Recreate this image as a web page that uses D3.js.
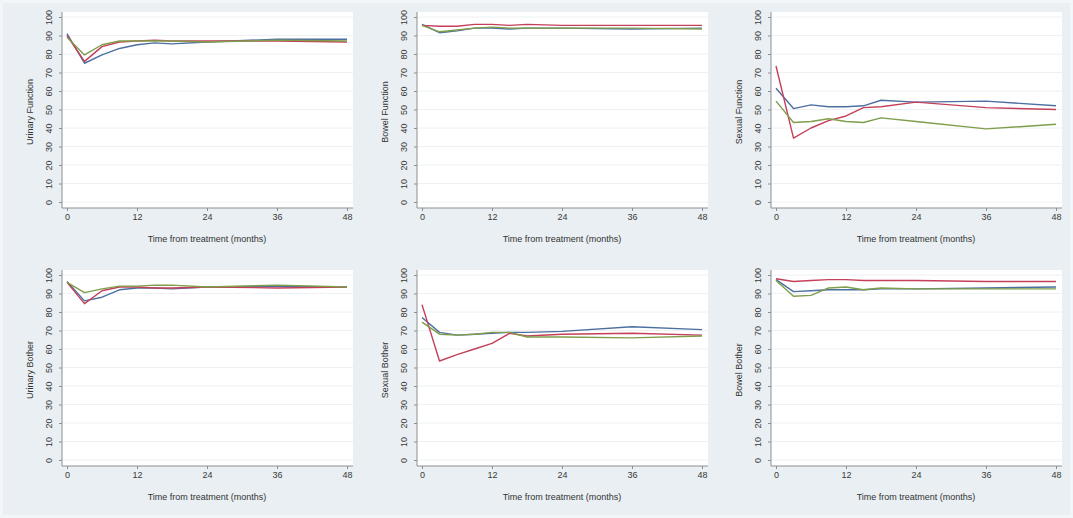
<!DOCTYPE html>
<html>
<head>
<meta charset="utf-8">
<script src="https://cdn.jsdelivr.net/npm/d3@7"></script>
<style>
  html, body { margin: 0; padding: 0; background: #f3f6f8; }
  svg { display: block; font-family: "Liberation Sans", Arial, sans-serif; }
</style>
</head>
<body>
<div id="chart"></div>
<script>
// time points (months)
const months = [0, 3, 6, 9, 12, 15, 18, 24, 36, 48];
const xTicks = [0, 12, 24, 36, 48];
const yTicks = [0, 10, 20, 30, 40, 50, 60, 70, 80, 90, 100];

// panel titles
const titles = ["Urinary Function", "Bowel Function", "Sexual Function",
                "Urinary Bother", "Sexual Bother", "Bowel Bother"];

// series values per panel
const urinaryFunctionBlue  = [91, 75, 79.5, 83, 85, 86, 85.5, 86.5, 88, 88];
const urinaryFunctionRed   = [90, 76, 84, 86.5, 87, 87.5, 87, 87, 87, 86.5];
const urinaryFunctionGreen = [89, 79.5, 85, 87, 87, 87, 87, 86.5, 87.5, 87];

const bowelFunctionBlue  = [96, 91.5, 92.5, 94, 94, 93.5, 94, 94, 93.5, 94];
const bowelFunctionRed   = [95.5, 95, 95, 96, 96, 95.5, 96, 95.5, 95.5, 95.5];
const bowelFunctionGreen = [95.5, 92, 93, 94, 94.5, 94, 94, 94, 94, 93.5];

const sexualFunctionBlue  = [61.5, 50.5, 52.5, 51.5, 51.5, 52, 55, 54, 54.5, 52];
const sexualFunctionRed   = [73.5, 34.5, 40, 44, 46.5, 51, 51.5, 54, 51, 50];
const sexualFunctionGreen = [54.5, 43, 43.5, 45, 43.5, 43, 45.5, 43.5, 39.5, 42];

const urinaryBotherBlue  = [96.5, 86, 88, 92, 93, 93, 92.5, 93.5, 94, 93.5];
const urinaryBotherRed   = [96, 84.5, 91.5, 93.5, 93.5, 93, 93, 93.5, 93, 93.5];
const urinaryBotherGreen = [96, 90.5, 92.5, 94, 94, 94.5, 94.5, 93.5, 94.5, 93.5];

const sexualBotherBlue  = [77, 69, 67.5, 68, 68.5, 69, 69, 69.5, 72, 70.5];
const sexualBotherRed   = [84, 53.5, 57, 60, 63, 68.5, 67, 68, 68.5, 67.5];
const sexualBotherGreen = [74.5, 68, 67.5, 68, 69, 69, 66.5, 66.5, 66, 67];

const bowelBotherBlue  = [97.5, 91, 91.5, 92, 92, 92, 92.5, 92.5, 93, 93.5];
const bowelBotherRed   = [98, 96.5, 97, 97.5, 97.5, 97, 97, 97, 96.5, 96.5];
const bowelBotherGreen = [97, 88.5, 89, 93, 93.5, 92, 93, 92.5, 92.5, 92.5];

const panelSeries = [
  [urinaryFunctionBlue, urinaryFunctionRed, urinaryFunctionGreen],
  [bowelFunctionBlue, bowelFunctionRed, bowelFunctionGreen],
  [sexualFunctionBlue, sexualFunctionRed, sexualFunctionGreen],
  [urinaryBotherBlue, urinaryBotherRed, urinaryBotherGreen],
  [sexualBotherBlue, sexualBotherRed, sexualBotherGreen],
  [bowelBotherBlue, bowelBotherRed, bowelBotherGreen]
];
const colors = ["#4d6fa0", "#c4405a", "#7f9e4b"];

const W = 1073, H = 518;
const colX = [0, 355, 713];
const rowY = [0, 258];

const svg = d3.select("#chart").append("svg")
  .attr("width", W).attr("height", H);

svg.append("rect").attr("x", 3).attr("y", 3)
  .attr("width", W - 6).attr("height", H - 6)
  .attr("fill", "#e9eff2");

titles.forEach((title, i) => {
  const ox = colX[i % 3], oy = rowY[Math.floor(i / 3)];
  const left = ox + (i % 3 === 2 ? 58 : 62);
  const top = oy + 12, bottom = oy + 208;
  const right = left + 291;

  const x = d3.scaleLinear().domain([0, 48]).range([left + 5, left + 285]);
  const y = d3.scaleLinear().domain([0, 100]).range([oy + 202, oy + 17]);

  const g = svg.append("g");

  g.append("rect")
    .attr("x", left).attr("y", top)
    .attr("width", right - left).attr("height", bottom - top)
    .attr("fill", "#ffffff");

  // grid
  g.selectAll(".grid").data(yTicks).join("line")
    .attr("x1", left + 1).attr("x2", right)
    .attr("y1", d => y(d)).attr("y2", d => y(d))
    .attr("stroke", "#eef0f1").attr("stroke-width", 1);

  // y axis
  const yAxis = g.append("g")
    .attr("transform", `translate(${left},0)`)
    .call(d3.axisLeft(y).tickValues(yTicks).tickSize(3).tickPadding(4));
  yAxis.select(".domain").attr("d", `M0,${top}V${bottom}`).attr("stroke", "#8a8f93");
  yAxis.selectAll(".tick line").attr("stroke", "#8a8f93");
  yAxis.selectAll(".tick text")
    .attr("transform", "rotate(-90)")
    .attr("x", 0).attr("y", -10).attr("dy", "0")
    .attr("text-anchor", "middle")
    .attr("font-size", 9).attr("fill", "#3a3a3a");

  // x axis
  const xAxis = g.append("g")
    .attr("transform", `translate(0,${bottom})`)
    .call(d3.axisBottom(x).tickValues(xTicks).tickSize(3).tickPadding(3));
  xAxis.select(".domain").attr("d", `M${left},0H${right}`).attr("stroke", "#8a8f93");
  xAxis.selectAll(".tick line").attr("stroke", "#8a8f93");
  xAxis.selectAll(".tick text").attr("font-size", 9).attr("fill", "#3a3a3a");

  // titles
  g.append("text")
    .attr("transform", `translate(${left - 32},${(top + bottom) / 2 + 2}) rotate(-90)`)
    .attr("text-anchor", "middle").attr("dy", "0.35em")
    .attr("font-size", 9).attr("fill", "#333")
    .text(title);
  g.append("text")
    .attr("x", (x(0) + x(48)) / 2).attr("y", bottom + 34)
    .attr("text-anchor", "middle")
    .attr("font-size", 9).attr("fill", "#333")
    .text("Time from treatment (months)");

  // lines
  const line = d3.line().x((d, j) => x(months[j])).y(d => y(d));
  panelSeries[i].forEach((vals, k) => {
    g.append("path")
      .datum(vals)
      .attr("d", line)
      .attr("fill", "none")
      .attr("stroke", colors[k])
      .attr("stroke-width", 1.4)
      .attr("stroke-linejoin", "round");
  });
});
</script>
</body>
</html>
